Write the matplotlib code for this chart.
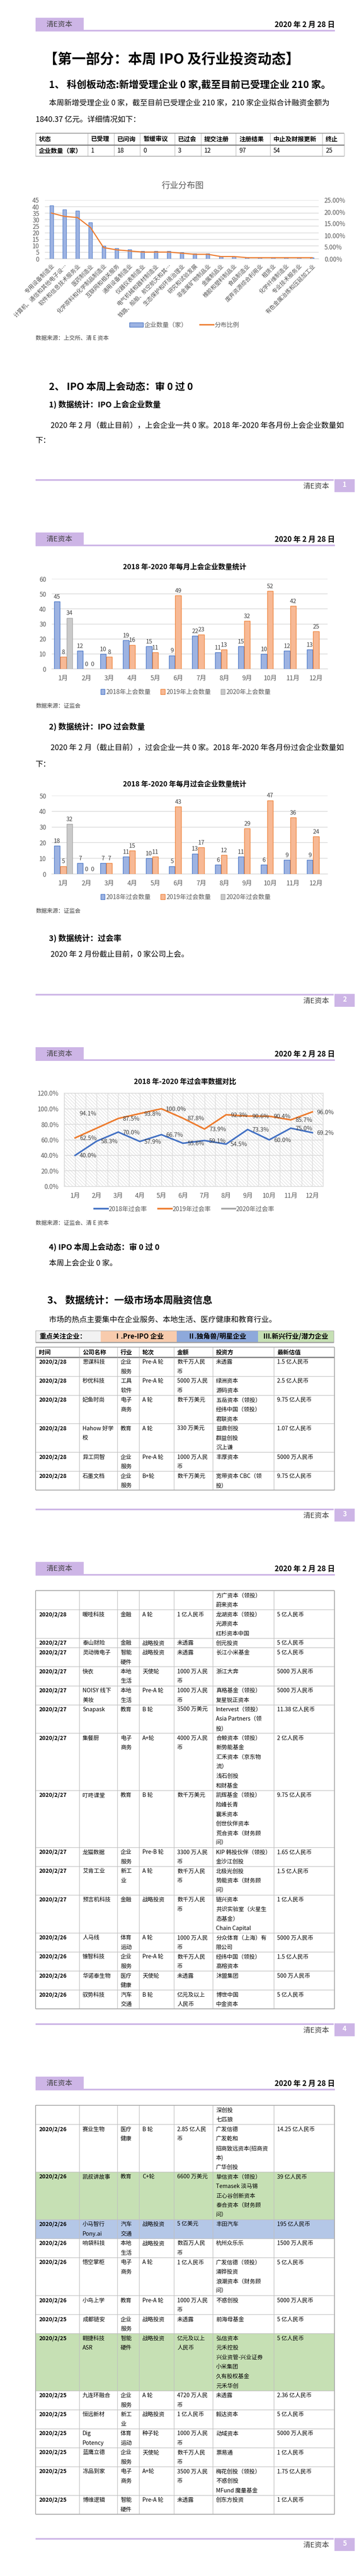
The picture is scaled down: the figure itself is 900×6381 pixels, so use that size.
import matplotlib
matplotlib.use('Agg')
import matplotlib.pyplot as plt
import matplotlib.patches as patches
from matplotlib.lines import Line2D
import matplotlib.ticker as mticker
import numpy as np

plt.rcParams['font.family'] = ['Noto Sans CJK SC', 'DejaVu Sans']
plt.rcParams['hatch.linewidth'] = 0.6
plt.rcParams['axes.unicode_minus'] = False

# =============================================================================
# 数据
# =============================================================================
KCB_STATUS = ['已受理', '已问询', '暂缓审议', '已过会', '提交注册', '注册结果', '中止及财报更新', '终止']
KCB_COUNTS = [1, 18, 0, 3, 12, 97, 54, 25]

INDUSTRIES = ['专用设备制造业', '计算机、通信和其他电子设…', '软件和信息技术服务业', '医药制造业',
              '化学原料和化学制品制造业', '互联网和相关服务', '通用设备制造业', '仪器仪表制造业',
              '电气机械和器材制造业', '铁路、船舶、航空航天和其…', '生态保护和环境治理业',
              '研究和试验发展', '非金属矿物制品业', '金属制品业', '橡胶和塑料制品业', '食品制造业',
              '废弃资源综合利用业', '租赁业', '化学纤维制造业', '专业技术服务业', '有色金属冶炼和压延加工业']
INDUSTRY_COUNTS = [41, 38, 37, 28, 10, 8, 7, 6, 6, 6, 5, 4, 4, 2, 2, 1, 1, 1, 1, 1, 1]

MONTHS = ['1月', '2月', '3月', '4月', '5月', '6月', '7月', '8月', '9月', '10月', '11月', '12月']
MEET_2018 = [45, 12, 10, 19, 15, 9, 22, 11, 15, 10, 12, 13]
MEET_2019 = [8, 0, 8, 16, 11, 49, 23, 13, 32, 52, 42, 25]
MEET_2020 = [34, 0]
PASS_2018 = [18, 7, 7, 11, 10, 5, 13, 6, 11, 6, 9, 9]
PASS_2019 = [5, 0, 7, 15, 11, 43, 17, 12, 29, 47, 36, 24]
PASS_2020 = [32, 0]
RATE_2018 = [40.0, 58.3, 70.0, 57.9, 66.7, 55.6, 59.1, 54.5, 73.3, 60.0, 75.0, 69.2]
RATE_2019 = [62.5, np.nan, 87.5, 93.8, 100.0, 87.8, 73.9, 92.3, 90.6, 90.4, 85.7, 96.0]
RATE_2020 = [94.1]

TABLE_HEAD = ['时间', '公司名称', '行业', '轮次', '金额', '投资方', '最新估值']
DATES = ['2020/2/28'] * 7 + ['2020/2/27'] * 10 + ['2020/2/26'] * 10 + ['2020/2/25'] * 8
COMPANIES = ['思谋科技', '秒优科技', '妃鱼时尚', 'Hahow 好学\n校', '异工同智', '石墨文档', '暖哇科技',
             '泰山财险', '灵动微电子', '快衣', 'NOISY 线下\n美妆', 'Snapask', '集餐厨', '叮咚课堂',
             '龙猫数据', '艾肯工业', '预言机科技', '人马线', '锥智科技', '华诺泰生物', '驭势科技',
             '赛业生物', '凯叔讲故事', '小马智行\nPony.ai', '响袋科技', '悟空掌柜', '小鸟上学',
             '成都链安', '翱捷科技\nASR', '九连环融合', '恒远新材', 'Dig\nPotency', '蓝鹰立德',
             '冻品到家', '博维逻辑']
SECTORS = ['企业\n服务', '工具\n软件', '电子\n商务', '教育', '企业\n服务', '企业\n服务', '金融',
           '金融', '智能\n硬件', '本地\n生活', '本地\n生活', '教育', '电子\n商务', '教育',
           '企业\n服务', '新工\n业', '金融', '体育\n运动', '企业\n服务', '医疗\n健康', '汽车\n交通',
           '医疗\n健康', '教育', '汽车\n交通', '本地\n生活', '电子\n商务', '教育',
           '企业\n服务', '智能\n硬件', '企业\n服务', '新工\n业', '体育\n运动', '企业\n服务',
           '电子\n商务', '智能\n硬件']
ROUNDS = ['Pre-A 轮', 'Pre-A 轮', 'A 轮', 'A 轮', 'Pre-A 轮', 'B+轮', 'A 轮',
          '战略投资', '战略投资', '天使轮', 'Pre-A 轮', 'B 轮', 'A+轮', 'B 轮',
          'Pre-B 轮', 'A 轮', '战略投资', 'A 轮', 'Pre-A 轮', '天使轮', 'B 轮',
          'B 轮', 'C+轮', '战略投资', '战略投资', 'A 轮', 'Pre-A 轮',
          '战略投资', '战略投资', 'A 轮', '战略投资', '种子轮', '天使轮', 'A+轮', 'Pre-A 轮']
AMOUNTS = ['数千万人民\n币', '5000 万人民\n币', '数千万美元', '330 万美元', '1000 万人民\n币',
           '数千万美元', '1 亿人民币', '未透露', '未透露', '1000 万人民\n币', '1000 万人民\n币',
           '3500 万美元', '4000 万人民\n币', '数千万美元', '3300 万人民\n币', '数千万人民\n币',
           '数千万人民\n币', '1000 万人民\n币', '数千万人民\n币', '未透露', '亿元及以上\n人民币',
           '2.85 亿人民\n币', '6600 万美元', '5 亿美元', '数百万人民\n币', '1 亿人民币',
           '1000 万人民\n币', '未透露', '亿元及以上\n人民币', '4720 万人民\n币', '1 亿人民币',
           '1000 万人民\n币', '数千万人民\n币', '3500 万人民\n币', '未透露']
INVESTORS = ['未透露', '绿洲资本\n源码资本', '五岳资本（领投）\n经纬中国（领投）\n君联资本',
             '益鼎创投\n群益创投\n沉上谦', '丰厚资本',
             '宽带资本 CBC（领\n投）\n方广资本（领投）\n蔚来资本',
             '龙湖资本（领投）\n光源资本\n红杉资本中国', '创元投资', '长江小米基金', '浙江大奔',
             '真格基金（领投）\n复星锐正资本', 'Intervest（领投）\nAsia Partners（领\n投）',
             '合鲸资本（领投）\n新势能基金\n汇禾资本（京东物\n流）\n浅石创投\n和财基金',
             '凯辉基金（领投）\n险峰长青\n襄禾资本\n创世伙伴资本\n荒合资本（财务顾\n问）',
             'KIP 韩投伙伴（领投）\n金沙江创投', '北极光创投\n势能资本（财务顾\n问）',
             '链兴资本\n共识实验室（火星生\n态基金）\nChain Capital', '分众体育（上海）有\n限公司',
             '经纬中国（领投）\n高榕资本', '沐盟集团', '博世中国\n中金资本\n深创投\n七匹狼',
             '广发信德\n广发乾和\n招商致远资本(招商资\n本)\n广华创投',
             '挚信资本（领投）\nTemasek 淡马锡\n正心谷创新资本\n泰合资本（财务顾\n问）',
             '丰田汽车', '杭州众乐乐', '广发信德（领投）\n涌铧投资\n浪潮资本（财务顾\n问）',
             '不惑创投', '前海母基金',
             '弘信资本\n元禾控股\n兴业资管-兴业证券\n小米集团\n久有股权基金\n元禾华创',
             '未透露', '毅达资本', '动域资本', '票易通', '梅花创投（领投）\n不惑创投\nMFund 魔量基金',
             '创东方投资']
VALUATIONS = ['1.5 亿人民币', '2.5 亿人民币', '9.75 亿人民币', '1.07 亿人民币', '5000 万人民币',
              '9.75 亿人民币', '5 亿人民币', '5 亿人民币', '5 亿人民币', '5000 万人民币',
              '5000 万人民币', '11.38 亿人民币', '2 亿人民币', '9.75 亿人民币', '1.65 亿人民币',
              '1.5 亿人民币', '1 亿人民币', '5000 万人民币', '1.5 亿人民币', '500 万人民币',
              '5 亿人民币', '14.25 亿人民币', '39 亿人民币', '195 亿人民币', '1500 万人民币',
              '5 亿人民币', '5000 万人民币', '5 亿人民币', '5 亿人民币', '2.36 亿人民币',
              '5 亿人民币', '5000 万人民币', '1 亿人民币', '1.75 亿人民币', '1 亿人民币']
# 重点关注类别：II 独角兽/明星, III 新兴行业/潜力
FOCUS = {'凯叔讲故事': 'III', '小马智行\nPony.ai': 'II', '翱捷科技\nASR': 'III'}

# =============================================================================
# 颜色 / 版式
# =============================================================================
W, H, DPI = 900, 6381, 100
PAGE_STEP = 1275
LAVENDER = '#CDB5E6'
BLUE, BLUE_F = '#4472C4', '#9DB3E2'
ORANGE, ORANGE_F = '#ED7D31', '#F7B995'
GRAY, GRAY_F = '#A5A5A5', '#CACACA'
GRID = '#D9D9D9'
TXT = '#000000'
AXT = '#595959'
FOCUS_FILL = {'I': '#F8CBAD', 'II': '#B4C7E7', 'III': '#C6E0B4'}

fig = plt.figure(figsize=(W / DPI, H / DPI), dpi=DPI, facecolor='white')
ax = fig.add_axes([0, 0, 1, 1])
ax.set_xlim(0, W)
ax.set_ylim(H, 0)
ax.axis('off')


def px_axes(x0, y0, x1, y1):
    return fig.add_axes([x0 / W, 1 - y1 / H, (x1 - x0) / W, (y1 - y0) / H])


def txt(x, y, s, size, bold=False, color=TXT, ha='left', va='center', **kw):
    ax.text(x, y, s, fontsize=size, fontweight='bold' if bold else 'normal',
            color=color, ha=ha, va=va, **kw)


def rect(x, y, w, h, fc, ec='none', lw=0, z=1):
    ax.add_patch(patches.Rectangle((x, y), w, h, facecolor=fc, edgecolor=ec, linewidth=lw, zorder=z))


def hline(x0, x1, y, color, lw, z=3):
    ax.plot([x0, x1], [y, y], color=color, lw=lw, zorder=z, solid_capstyle='butt')


def vline(x, y0, y1, color, lw, z=3):
    ax.plot([x, x], [y0, y1], color=color, lw=lw, zorder=z, solid_capstyle='butt')


def fig_legend(handles, labels, cx, cy, **kw):
    fig.legend(handles, labels, loc='center', bbox_to_anchor=(cx / W, 1 - cy / H),
               ncol=len(labels), frameon=False, labelcolor=AXT, **kw)


# =============================================================================
# 页眉 / 页脚
# =============================================================================
for k in range(5):
    top = 44 + PAGE_STEP * k
    rect(88, top, 119, 33, LAVENDER)
    rect(88, top + 30, 740, 4, LAVENDER)
    txt(147, top + 17, '清E资本', 13, color='#404040', ha='center')
    txt(828, top + 17, '2020 年 2 月 28 日', 13, bold=True, ha='right')
    fy = 1187 + PAGE_STEP * k
    rect(88, fy, 737, 4, LAVENDER)
    rect(827, fy, 50, 32, LAVENDER)
    txt(852, fy + 14, str(k + 1), 12, bold=True, color='white', ha='center')
    txt(814, fy + 18, '清E资本', 13, color='#404040', ha='right')

# =============================================================================
# 第 1 页
# =============================================================================
txt(108, 148, '【第一部分：本周 IPO 及行业投资动态】', 25, bold=True)
txt(121, 211, '1、 科创板动态:新增受理企业 0 家,截至目前已受理企业 210 家。', 17.5, bold=True)
txt(121, 255, '本周新增受理企业 0 家，截至目前已受理企业 210 家，210 家企业拟合计融资金额为', 13.5)
txt(88, 296, '1840.37 亿元。详细情况如下：', 13.5)

# 科创板状态表
kx = [88, 217, 282, 346, 432, 497, 583, 668, 797, 851]
ky = [330, 359, 387]
rect(kx[0], ky[0], kx[-1] - kx[0], ky[2] - ky[0], 'white', z=1)
for xx in kx:
    vline(xx, ky[0], ky[2], '#BFBFBF', 1.0)
hline(kx[0], kx[-1], ky[0], '#A0A0A0', 1.6)
hline(kx[0], kx[-1], ky[1], '#808080', 2.0)
hline(kx[0], kx[-1], ky[2], '#A0A0A0', 1.2)
heads = ['状态'] + KCB_STATUS
vals = ['企业数量（家）'] + [str(v) for v in KCB_COUNTS]
for i in range(len(heads)):
    txt(kx[i] + 8, (ky[0] + ky[1]) / 2, heads[i], 11, bold=True)
    txt(kx[i] + 8, (ky[1] + ky[2]) / 2, vals[i], 11, bold=(i == 0))

# 行业分布图
txt(452, 461, '行业分布图', 15, color=AXT, ha='center')
a1 = px_axes(111, 496, 788, 641)
xi = np.arange(len(INDUSTRIES))
a1.bar(xi, INDUSTRY_COUNTS, width=0.28, color=BLUE_F, edgecolor=BLUE, linewidth=0.8, zorder=3)
a1.set_xlim(-0.5, len(INDUSTRIES) - 0.5)
a1.set_ylim(0, 45)
a1.set_yticks(range(0, 46, 5))
a1.grid(axis='y', color=GRID, lw=1.2, zorder=0)
a1.set_xticks(xi)
a1.set_xticklabels(INDUSTRIES, rotation=45, ha='right', rotation_mode='anchor', fontsize=10, color=AXT)
a1.tick_params(axis='x', length=0, pad=8)
a1.tick_params(axis='y', length=0, pad=10, labelsize=11, labelcolor=AXT)
for s in a1.spines.values():
    s.set_visible(False)
a1.spines['bottom'].set_visible(True)
a1.spines['bottom'].set_color(GRID)
a1r = a1.twinx()
ratio = np.array(INDUSTRY_COUNTS) / sum(INDUSTRY_COUNTS) * 100
a1r.plot(xi, ratio, color=ORANGE, lw=2, zorder=4)
a1r.set_ylim(0, 25)
a1r.set_yticks(range(0, 26, 5))
a1r.yaxis.set_major_formatter(mticker.FuncFormatter(lambda v, p: f'{v:.2f}%'))
a1r.tick_params(axis='y', length=0, pad=10, labelsize=11, labelcolor=AXT)
for s in a1r.spines.values():
    s.set_visible(False)
fig_legend([patches.Patch(facecolor=BLUE_F, edgecolor=BLUE),
            Line2D([0], [0], color=ORANGE, lw=2.5)],
           ['企业数量（家）', '分布比例'], 456, 805, fontsize=11, handlelength=2.2,
           handletextpad=0.2, columnspacing=2.0)
txt(88, 838, '数据来源：上交所、清 E 资本', 10, color='#404040')

txt(121, 960, '2、 IPO 本周上会动态：审 0 过 0', 17.5, bold=True)
txt(121, 1002, '1) 数据统计：IPO 上会企业数量', 14, bold=True)
txt(125, 1054, '2020 年 2 月（截止目前），上会企业一共 0 家。2018 年-2020 年各月份上会企业数量如', 13.5)
txt(88, 1092, '下：', 13.5)


# =============================================================================
# 第 2 页：柱状图
# =============================================================================
def month_bars(y0, y1, s18, s19, s20, ymax, names, title, title_y, legend_y, source_y):
    txt(457, title_y, title, 12.5, bold=True, ha='center')
    a = px_axes(128, y0, 810, y1)
    xm = np.arange(len(MONTHS))
    for off, vals_, fc, ec in [(-0.27, s18, BLUE_F, BLUE), (0.0, s19, ORANGE_F, ORANGE),
                               (0.27, s20, GRAY_F, GRAY)]:
        b = a.bar(xm[:len(vals_)] + off, vals_, 0.25, color=fc, edgecolor=ec, linewidth=1, zorder=3)
        a.bar_label(b, padding=3, fontsize=10.5, color='#404040')
    a.set_xlim(-0.5, len(MONTHS) - 0.5)
    a.set_ylim(0, ymax)
    a.set_yticks(range(0, ymax + 1, 10))
    a.set_xticks(xm)
    a.set_xticklabels(MONTHS)
    a.grid(axis='y', color=GRID, lw=1.2, zorder=0)
    a.tick_params(axis='x', length=0, pad=11, labelsize=11.5, labelcolor=AXT)
    a.tick_params(axis='y', length=0, pad=10, labelsize=11, labelcolor=AXT)
    for s in a.spines.values():
        s.set_visible(False)
    a.spines['bottom'].set_visible(True)
    a.spines['bottom'].set_color(GRID)
    a.spines['bottom'].set_linewidth(1.2)
    handles = [patches.Patch(facecolor=fc, edgecolor=ec) for fc, ec in
               [(BLUE_F, BLUE), (ORANGE_F, ORANGE), (GRAY_F, GRAY)]]
    fig_legend(handles, names, 459, legend_y, fontsize=11, handlelength=0.7, handleheight=0.9,
               handletextpad=0.2, columnspacing=1.6)
    txt(88, source_y, '数据来源：证监会', 10, color='#404040')


month_bars(1434, 1657, MEET_2018, MEET_2019, MEET_2020, 60,
           ['2018年上会数量', '2019年上会数量', '2020年上会数量'],
           '2018 年-2020 年每月上会企业数量统计', 1405, 1714, 1749)
txt(121, 1800, '2) 数据统计：IPO 过会数量', 14, bold=True)
txt(125, 1852, '2020 年 2 月（截止目前），过会企业一共 0 家。2018 年-2020 年各月份过会企业数量如', 13.5)
txt(88, 1893, '下：', 13.5)
month_bars(1971, 2165, PASS_2018, PASS_2019, PASS_2020, 50,
           ['2018年过会数量', '2019年过会数量', '2020年过会数量'],
           '2018 年-2020 年每月过会企业数量统计', 1943, 2222, 2257)
txt(121, 2324, '3) 数据统计：过会率', 14, bold=True)
txt(125, 2364, '2020 年 2 月份截止目前，0 家公司上会。', 13.5)

# =============================================================================
# 第 3 页：过会率折线
# =============================================================================
txt(457, 2680, '2018 年-2020 年过会率数据对比', 12.5, bold=True, ha='center')
a4 = px_axes(159, 2708, 799, 2939)
a4.add_patch(patches.Rectangle((0, 0), 1, 1, transform=a4.transAxes, facecolor='white',
                               edgecolor='#D0D0D0', hatch='\\\\\\\\', linewidth=0, zorder=0))
xm = np.arange(len(MONTHS))
for series, col in [(RATE_2018, BLUE), (RATE_2019, ORANGE), (RATE_2020, GRAY)]:
    arr = np.array(series, dtype=float)
    xs = xm[:len(arr)][~np.isnan(arr)]
    ys = arr[~np.isnan(arr)]
    a4.plot(xs, ys, color=col, lw=2.8, zorder=4, solid_joinstyle='miter')
    for xv, yv in zip(xs, ys):
        a4.annotate(f'{yv:.1f}%', (xv, yv), xytext=(8, -1), textcoords='offset points',
                    ha='left', va='center', fontsize=10.5, color='#404040', zorder=5)
a4.set_xlim(-0.5, len(MONTHS) - 0.5)
a4.set_ylim(0, 120)
a4.set_yticks(range(0, 121, 20))
a4.yaxis.set_major_formatter(mticker.FuncFormatter(lambda v, p: f'{v:.1f}%'))
a4.set_xticks(xm)
a4.set_xticklabels(MONTHS)
a4.set_xticks(np.arange(-0.5, len(MONTHS), 1.0), minor=True)
a4.grid(axis='y', color=GRID, lw=1.2, zorder=1)
a4.grid(axis='x', which='both', color=GRID, lw=1.0, zorder=1)
a4.tick_params(axis='x', which='both', length=0, pad=11, labelsize=11.5, labelcolor=AXT)
a4.tick_params(axis='y', length=0, pad=10, labelsize=11, labelcolor=AXT)
for s in a4.spines.values():
    s.set_color(GRID)
    s.set_linewidth(1.2)
fig_legend([Line2D([0], [0], color=c, lw=3) for c in (BLUE, ORANGE, GRAY)],
           ['2018年过会率', '2019年过会率', '2020年过会率'], 456, 2995, fontsize=11,
           handlelength=2.2, handletextpad=0.1, columnspacing=1.8)
txt(88, 3030, '数据来源：证监会、清 E 资本', 10, color='#404040')

txt(121, 3089, '4) IPO 本周上会动态：审 0 过 0', 14, bold=True)
txt(121, 3129, '本周上会企业 0 家。', 13.5)
txt(117, 3221, '3、 数据统计：一级市场本周融资信息', 17.5, bold=True)
txt(121, 3270, '市场的热点主要集中在企业服务、本地生活、医疗健康和教育行业。', 13.5)

# 重点关注企业 图例条
seg = [(88, 249, '#F2F2F2', '重点关注企业：', 'left'),
       (249, 437, FOCUS_FILL['I'], 'Ⅰ.Pre-IPO 企业', 'center'),
       (437, 638, '#8EA9DB', 'Ⅱ.独角兽/明星企业', 'center'),
       (638, 825, FOCUS_FILL['III'], 'Ⅲ.新兴行业/潜力企业', 'center')]
for x0, x1, fc, label, al in seg:
    rect(x0, 3296, x1 - x0, 29, fc, z=1)
    txt(x0 + 9 if al == 'left' else (x0 + x1) / 2, 3311, label, 12, bold=True, ha=al)
ax.add_patch(patches.Rectangle((88, 3296), 737, 29, facecolor='none', edgecolor='#B0B0B0', lw=1.0, zorder=3))
hline(88, 825, 3325, '#A0A0A0', 2.0)

# =============================================================================
# 融资信息表（跨页）
# =============================================================================
COLX = [88, 196, 290, 344, 430, 526, 677, 827]
LH = 23.55
INNER = '#BFBFBF'
OUTER = '#A6A6A6'
segments = [(3337, 3700), (3940, 4980), (5215, 6260)]


def draw_cells(y0, cells, nrows, fill, bold_first=False, head=False):
    h = nrows * LH
    if fill:
        rect(COLX[0], y0, COLX[-1] - COLX[0], h, fill, z=1)
    for c, lines in enumerate(cells):
        for j, line in enumerate(lines):
            txt(COLX[c] + 8, y0 + 12.5 + j * LH, line, 10.5 if head else 10,
                bold=head or (bold_first and c == 0))
    for xx in COLX[1:-1]:
        vline(xx, y0, y0 + h, INNER, 1.0)
    return y0 + h


def close_segment(top, bottom):
    vline(COLX[0], top, bottom, OUTER, 1.4)
    vline(COLX[-1], top, bottom, OUTER, 1.4)
    hline(COLX[0], COLX[-1], top, OUTER, 1.4)
    hline(COLX[0], COLX[-1], bottom, OUTER, 1.4)


si = 0
seg_top, seg_bot = segments[si]
y = draw_cells(seg_top, [[h] for h in TABLE_HEAD], 1, None, head=True)
y += 1
hline(COLX[0], COLX[-1], y, '#808080', 2.2)
for r in range(len(DATES)):
    cells = [s.split('\n') for s in (DATES[r], COMPANIES[r], SECTORS[r], ROUNDS[r],
                                       AMOUNTS[r], INVESTORS[r], VALUATIONS[r])]
    fill = FOCUS_FILL.get(FOCUS.get(COMPANIES[r], ''), None)
    n = max(len(c) for c in cells)
    start = 0
    while start < n:
        avail = int((seg_bot - y) // LH)
        take = min(n - start, avail)
        if take <= 0:
            close_segment(seg_top, y)
            si += 1
            seg_top, seg_bot = segments[si]
            y = seg_top
            continue
        part = [c[start:start + take] for c in cells]
        y = draw_cells(y, part, take, fill, bold_first=True)
        hline(COLX[0], COLX[-1], y, INNER, 1.0)
        start += take
close_segment(seg_top, y)

fig.savefig('out.png', dpi=DPI, facecolor='white')
plt.close(fig)
